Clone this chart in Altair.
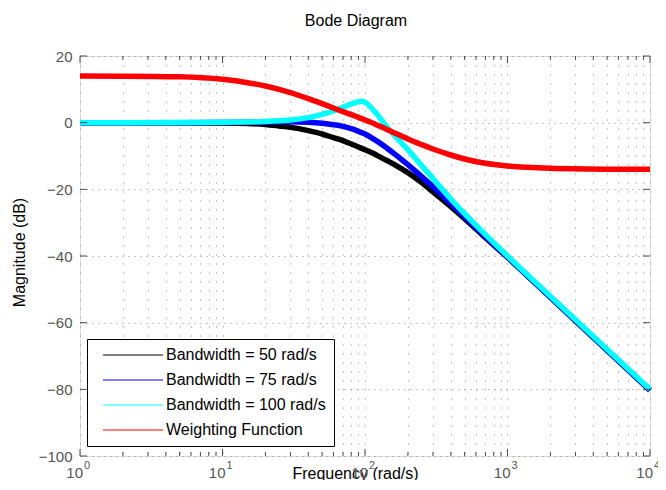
import altair as alt
import pandas as pd

FONT = "Liberation Sans"

freq = [1, 2, 5, 10, 15, 20, 25, 30, 40, 50, 60, 70, 80, 90, 95, 100, 110, 120,
        140, 160, 180, 200, 250, 300, 400, 500, 700, 1000, 2000, 5000, 10000]

# Magnitudes (dB)
mag_bw50 = [0, 0, -0.03, -0.1, -0.25, -0.55, -1.0, -1.4, -2.4, -3.4, -4.5, -5.4, -6.4,
            -7.3, -7.7, -8.1, -8.9, -9.7, -11.2, -12.5, -13.8, -15.0, -18.0, -20.8,
            -25.2, -28.8, -34.5, -40.4, -52.4, -68.3, -80.3]
mag_bw75 = [0, 0, 0, 0.05, 0.1, 0.2, 0.25, 0.25, 0.1, -0.2, -0.6, -1.1, -1.8, -2.6,
            -3.0, -3.4, -4.4, -5.4, -7.4, -9.3, -11.0, -12.6, -16.2, -19.2, -24.3,
            -28.2, -34.2, -40.3, -52.4, -68.3, -80.3]
mag_bw100 = [0, 0, 0.02, 0.1, 0.2, 0.35, 0.55, 0.8, 1.5, 2.5, 3.5, 4.6, 5.6, 6.3, 6.4,
             6.1, 4.6, 2.8, -0.9, -3.7, -6.0, -8.1, -12.9, -16.8, -22.9, -27.3, -33.6,
             -40.0, -52.1, -68.0, -80.0]
mag_weight = [13.98, 13.95, 13.75, 13.0, 12.0, 11.0, 10.0, 9.0, 7.2, 5.7, 4.4, 3.3, 2.4,
              1.6, 1.2, 0.8, 0.1, -0.6, -1.9, -3.0, -4.0, -4.9, -6.6, -7.9, -9.7, -10.9,
              -12.2, -13.0, -13.7, -13.95, -14.0]

series_names = ["Bandwidth = 50 rad/s", "Bandwidth = 75 rad/s",
                "Bandwidth = 100 rad/s", "Weighting Function"]
series_colors = ["#000000", "#0000ff", "#00ffff", "#ff0000"]

y_ticks = [-100, -80, -60, -40, -20, 0, 20]
decades = [1, 10, 100, 1000, 10000]
decade_exp = ["0", "1", "2", "3", "4"]
minor_x = [m * d for d in decades[:-1] for m in range(2, 10)]
grid_x = sorted(decades + minor_x)

rows = []
for name, vals in zip(series_names, [mag_bw50, mag_bw75, mag_bw100, mag_weight]):
    for f, v in zip(freq, vals):
        rows.append({"freq": f, "mag": v, "series": name})
df = pd.DataFrame(rows)

W, H = 570, 400
frame_color = "#4d4d4d"
label_color = "#555555"
xscale = alt.Scale(type="log", domain=[1, 10000], nice=False)
yscale = alt.Scale(domain=[-100, 20], nice=False, zero=False)

x_axis = alt.Axis(values=grid_x, labels=False, ticks=False, tickSize=0, domain=False,
                  grid=True, gridDash=[1, 8], gridColor="#8c8c8c", gridWidth=1,
                  title="Frequency (rad/s)", titleFont=FONT, titleFontSize=16,
                  titleFontWeight="normal", titleColor="black", titleX=275, titleY=22,
                  titleBaseline="alphabetic", titleAlign="center")
y_axis = alt.Axis(values=y_ticks, ticks=False, tickSize=0, domain=False, grid=True,
                  gridDash=[1, 5], gridColor="#8c8c8c", gridWidth=1,
                  labelFont=FONT, labelFontSize=15, labelColor=label_color,
                  labelPadding=8, labelFlush=False, labelOverlap=False, format="d",
                  title="Magnitude (dB)", titleFont=FONT, titleFontSize=16,
                  titleFontWeight="normal", titleColor="black", titleX=-61, titleY=196,
                  titleAngle=270, titleBaseline="middle", titleAlign="center")

color = alt.Color(
    "series:N",
    scale=alt.Scale(domain=series_names, range=series_colors),
    legend=alt.Legend(title=None, orient="none", legendX=7, legendY=283,
                      strokeColor="black", fillColor="white", padding=8,
                      symbolType="M0,0H12", symbolSize=100, symbolStrokeWidth=1,
                      labelFont=FONT, labelFontSize=16, labelColor="black",
                      labelOffset=55, rowPadding=9, labelLimit=400),
)

X = lambda f: alt.X(f, type="quantitative", scale=xscale, axis=x_axis)
Y = lambda f: alt.Y(f, type="quantitative", scale=yscale, axis=y_axis)

base = alt.Chart(df)
layers = []
for name in series_names:
    layers.append(
        base.transform_filter(alt.datum.series == name)
        .mark_line(strokeWidth=5.5, interpolate="monotone")
        .encode(x=X("freq"), y=Y("mag"), color=color)
    )

ytick_df = pd.DataFrame({"v": y_ticks})
xmaj_df = pd.DataFrame({"v": decades})
xmin_df = pd.DataFrame({"v": minor_x})

tick_layers = [
    alt.Chart(ytick_df).mark_rule(color=frame_color).encode(
        y=Y("v"), x=alt.value(0), x2=alt.value(7)),
    alt.Chart(ytick_df).mark_rule(color=frame_color).encode(
        y=Y("v"), x=alt.value(W), x2=alt.value(W - 7)),
    alt.Chart(xmaj_df).mark_rule(color=frame_color).encode(
        x=X("v"), y=alt.value(H), y2=alt.value(H - 7)),
    alt.Chart(xmaj_df).mark_rule(color=frame_color).encode(
        x=X("v"), y=alt.value(0), y2=alt.value(7)),
    alt.Chart(xmin_df).mark_rule(color=frame_color).encode(
        x=X("v"), y=alt.value(H), y2=alt.value(H - 4)),
    alt.Chart(xmin_df).mark_rule(color=frame_color).encode(
        x=X("v"), y=alt.value(0), y2=alt.value(4)),
]

xlab_df = pd.DataFrame({"v": decades, "exp": decade_exp})
label_layers = [
    alt.Chart(xlab_df).mark_text(text="10", align="right", baseline="alphabetic", dx=3,
                                 font=FONT, fontSize=15, color=label_color).encode(
        x=X("v"), y=alt.value(H + 22)),
    alt.Chart(xlab_df).mark_text(align="left", baseline="alphabetic", dx=4,
                                 font=FONT, fontSize=11, color=label_color).encode(
        x=X("v"), y=alt.value(H + 13), text="exp:N"),
]

chart = alt.layer(*layers, *tick_layers, *label_layers).properties(
    width=W, height=H,
    title=alt.TitleParams("Bode Diagram", font=FONT, fontSize=16, fontWeight="normal",
                          color="black", anchor="middle", frame="group", dx=-9,
                          offset=20),
    autosize=alt.AutoSizeParams(type="none"),
    padding={"left": 72, "top": 48, "right": 8, "bottom": 24},
).configure_view(stroke=frame_color, strokeWidth=1).configure(background="white")

chart.save("out.html", embed_options={"renderer": "svg", "actions": False})
